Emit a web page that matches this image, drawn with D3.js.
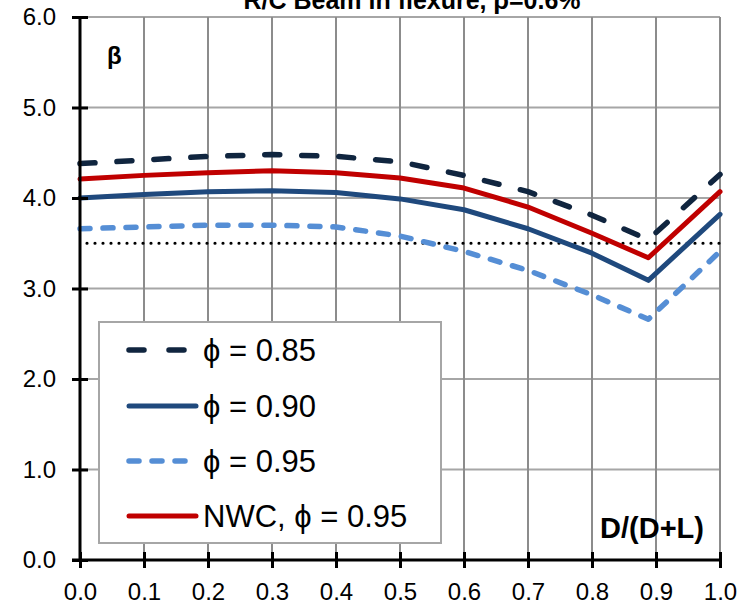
<!DOCTYPE html>
<html>
<head>
<meta charset="utf-8">
<script src="https://cdn.jsdelivr.net/npm/d3@7"></script>
<style>
  html, body { margin: 0; padding: 0; background: #fff; }
  svg { display: block; font-family: "Liberation Sans", Arial, sans-serif; }
</style>
</head>
<body>
<svg id="chart" width="744" height="605"></svg>
<script>
// ---- data ----
const xValues = [0.0, 0.1, 0.2, 0.3, 0.4, 0.5, 0.6, 0.7, 0.8, 0.888, 1.0];
const phi085 = [4.38, 4.42, 4.46, 4.48, 4.46, 4.40, 4.25, 4.07, 3.81, 3.54, 4.26];
const phi090 = [4.00, 4.04, 4.07, 4.08, 4.06, 3.99, 3.87, 3.66, 3.39, 3.09, 3.82];
const phi095 = [3.66, 3.68, 3.70, 3.70, 3.68, 3.58, 3.41, 3.20, 2.93, 2.66, 3.41];
const nwc095 = [4.21, 4.25, 4.28, 4.30, 4.28, 4.22, 4.11, 3.90, 3.61, 3.34, 4.07];
const targetBeta = 3.5;
const seriesNames = ["\u03d5 = 0.85", "\u03d5 = 0.90", "\u03d5 = 0.95", "NWC, \u03d5 = 0.95"];
const xTicks = [0, 0.1, 0.2, 0.3, 0.4, 0.5, 0.6, 0.7, 0.8, 0.9, 1.0];
const yTicks = [0, 1, 2, 3, 4, 5, 6];
const titleText = "R/C Beam in flexure, \u03c1=0.6%";
const xLabel = "D/(D+L)";
const yLabel = "\u03b2";

// ---- layout ----
const svg = d3.select("#chart");
const pLeft = 80, pRight = 720, pTop = 17, pBottom = 560;
const x = d3.scaleLinear().domain([0, 1]).range([pLeft, pRight]);
const y = d3.scaleLinear().domain([0, 6]).range([pBottom, pTop]);

const styles = [
  { color: "#10253f", width: 5.5, dash: "15,22", cap: "round" },
  { color: "#1f497d", width: 5, dash: null, cap: "round" },
  { color: "#558ed5", width: 5.5, dash: "10,13", cap: "round" },
  { color: "#c00000", width: 5, dash: null, cap: "round" }
];
const allSeries = [phi085, phi090, phi095, nwc095];

// title
svg.append("text")
  .attr("x", 412).attr("y", 9)
  .attr("text-anchor", "middle")
  .attr("font-size", 25).attr("font-weight", "bold")
  .text(titleText);

// gridlines
const grid = svg.append("g");
grid.selectAll("line.h").data(yTicks.filter(d => d > 0)).join("line")
  .attr("class", "h")
  .attr("x1", pLeft).attr("x2", pRight)
  .attr("y1", d => y(d)).attr("y2", d => y(d))
  .attr("stroke", "#a6a6a6").attr("stroke-width", 2);
grid.selectAll("line.v").data(xTicks.filter(d => d > 0)).join("line")
  .attr("class", "v")
  .attr("x1", d => x(d)).attr("x2", d => x(d))
  .attr("y1", pTop).attr("y2", pBottom)
  .attr("stroke", "#8c8c8c").attr("stroke-width", 2);

// target dotted line
svg.append("line")
  .attr("x1", x(0) + 7).attr("x2", x(1))
  .attr("y1", y(targetBeta)).attr("y2", y(targetBeta))
  .attr("stroke", "#000").attr("stroke-width", 3.2)
  .attr("stroke-linecap", "round")
  .attr("stroke-dasharray", "0,8");

// series lines
const line = d3.line().x((d, i) => x(xValues[i])).y(d => y(d)).curve(d3.curveLinear);
allSeries.forEach((s, k) => {
  const st = styles[k];
  svg.append("path")
    .datum(s)
    .attr("d", line)
    .attr("fill", "none")
    .attr("stroke", st.color)
    .attr("stroke-width", st.width)
    .attr("stroke-linecap", st.cap)
    .attr("stroke-linejoin", "round")
    .attr("stroke-dasharray", st.dash);
});

// axes
const xAxis = d3.axisBottom(x).tickValues(xTicks).tickFormat(d3.format(".1f")).tickSizeInner(8).tickSizeOuter(0).tickPadding(15);
const gx = svg.append("g").attr("transform", `translate(0,${pBottom})`).call(xAxis);
gx.select(".domain").attr("stroke", "#000").attr("stroke-width", 3)
  .attr("d", `M${pLeft - 8},0H${pRight + 2}`);
gx.selectAll(".tick line").attr("stroke", "#000").attr("stroke-width", 3).attr("y1", -8).attr("y2", 8);
gx.selectAll(".tick text").attr("font-size", 24).attr("fill", "#000")
  .attr("font-family", "'Liberation Sans', Arial, sans-serif");

const yAxis = d3.axisLeft(y).tickValues(yTicks).tickFormat(d3.format(".1f")).tickSizeInner(8).tickSizeOuter(0).tickPadding(16);
const gy = svg.append("g").attr("transform", `translate(${pLeft},0)`).call(yAxis);
gy.select(".domain").attr("stroke", "#000").attr("stroke-width", 3)
  .attr("d", `M0,${pTop}V${pBottom + 2}`);
gy.selectAll(".tick line").attr("stroke", "#000").attr("stroke-width", 3).attr("x1", -8).attr("x2", 8);
gy.selectAll(".tick text").attr("font-size", 24).attr("fill", "#000")
  .attr("font-family", "'Liberation Sans', Arial, sans-serif");

// axis titles
svg.append("text").attr("x", 107).attr("y", 64)
  .attr("font-size", 24).attr("font-weight", "bold").text(yLabel);
svg.append("text").attr("x", 704).attr("y", 538)
  .attr("text-anchor", "end")
  .attr("font-size", 29).attr("font-weight", "bold").text(xLabel);

// legend
const lg = svg.append("g");
lg.append("rect")
  .attr("x", 99).attr("y", 322).attr("width", 342).attr("height", 221)
  .attr("fill", "#fff").attr("stroke", "#a6a6a6").attr("stroke-width", 2);
const legendY = [350, 406, 461, 516];
seriesNames.forEach((name, k) => {
  const st = styles[k];
  lg.append("line")
    .attr("x1", 129).attr("x2", 196)
    .attr("y1", legendY[k]).attr("y2", legendY[k])
    .attr("stroke", st.color).attr("stroke-width", st.width)
    .attr("stroke-linecap", "round")
    .attr("stroke-dasharray", k === 0 ? "15,25" : (k === 2 ? "10,13" : null));
  lg.append("text")
    .attr("x", 203).attr("y", legendY[k] + 11)
    .attr("font-size", 31).attr("fill", "#000")
    .text(name);
});
</script>
</body>
</html>
